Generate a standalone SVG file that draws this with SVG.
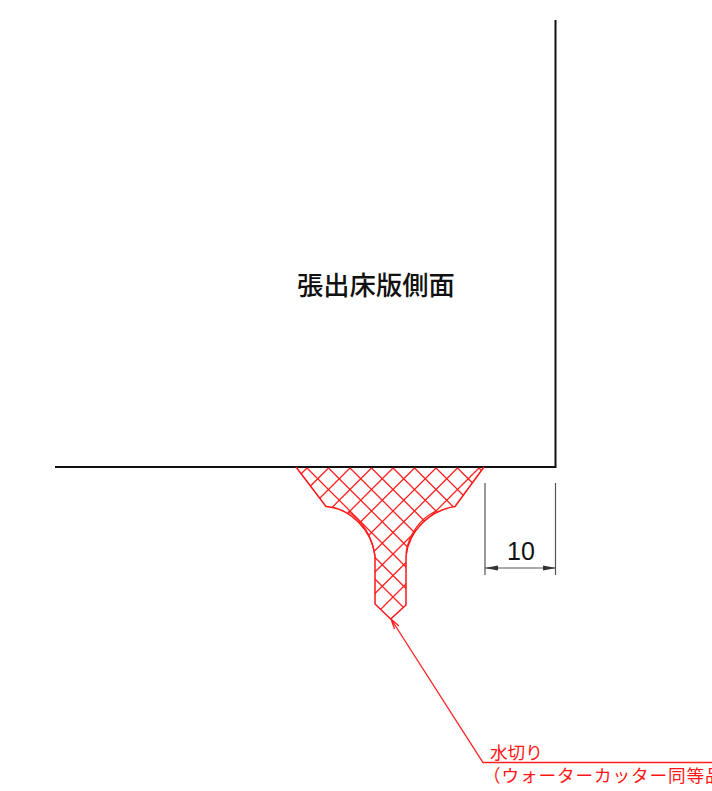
<svg xmlns="http://www.w3.org/2000/svg" width="712" height="791" viewBox="0 0 712 791">
<style>
.k{fill:none;stroke:#111;stroke-width:2}
.d{fill:none;stroke:#555;stroke-width:1.2}
.r{fill:none;stroke:#ff2020;stroke-width:1.3}
.o{fill:none;stroke:#ff1515;stroke-width:1.5}
.rt{fill:#ff1515;font-family:"Noto Sans CJK JP",sans-serif;font-size:17.6px;font-kerning:none}
.t{fill:#111;font-family:"Noto Sans CJK JP",sans-serif;font-weight:500}
</style>
<defs>
<clipPath id="wc"><path d="M296 467L326 506.5C350 508 372 530 375 556V604L390.7 619L406 605V556C409 530 431 510 455 506.5L484 467Z"/></clipPath>
</defs>
<rect width="712" height="791" fill="#fff"/>
<g id="slab">
<path class="k" d="M555.5 20V467M55 467H556.5"/>
</g>
<g id="water-cutter">
<g clip-path="url(#wc)">
<path class="r" d="M264 468L424 628M285.500 468L445.500 628M307 468L467 628M328.500 468L488.500 628M350 468L510 628M371.500 468L531.500 628M393 468L553 628M414.500 468L574.500 628M436 468L596 628M457.500 468L617.500 628M479 468L639 628"/>
<path class="r" d="M307 468L147 628M328.500 468L168.500 628M350 468L190 628M371.500 468L211.500 628M393 468L233 628M414.500 468L254.500 628M436 468L276 628M457.500 468L297.500 628M479 468L319 628M500.500 468L340.500 628M522 468L362 628"/>
</g>
<path class="o" d="M296 467L326 506.500C350 508 372 530 375 556V604L390.700 619L406 605V556C409 530 431 510 455 506.500L484 467"/>
<path class="r" d="M348 511.500C362 520 372 536 375 556M435 511.500C422 518 409 532 406 553"/>
</g>
<g id="connectors">
<path class="d" d="M485 483V575M555.500 483V575M485 568H556"/>
<path d="M485 568L498 565.500V570.500ZM556 568L543 565.500V570.500Z" fill="#333"/>
<path class="r" d="M391 619L483 762.500H712M391 619L394.500 629M391 619L399 626"/>
</g>
<g id="labels">
<text class="t" x="297" y="295" font-size="26.300">張出床版側面</text>
<text x="507" y="560" font-size="25" fill="#111" font-family="Liberation Sans, sans-serif">10</text>
<text class="rt" x="490" y="759">水切り</text>
<text class="rt" x="483" y="782" letter-spacing="0.9">（ウォーターカッター同等品</text>
</g>
</svg>
